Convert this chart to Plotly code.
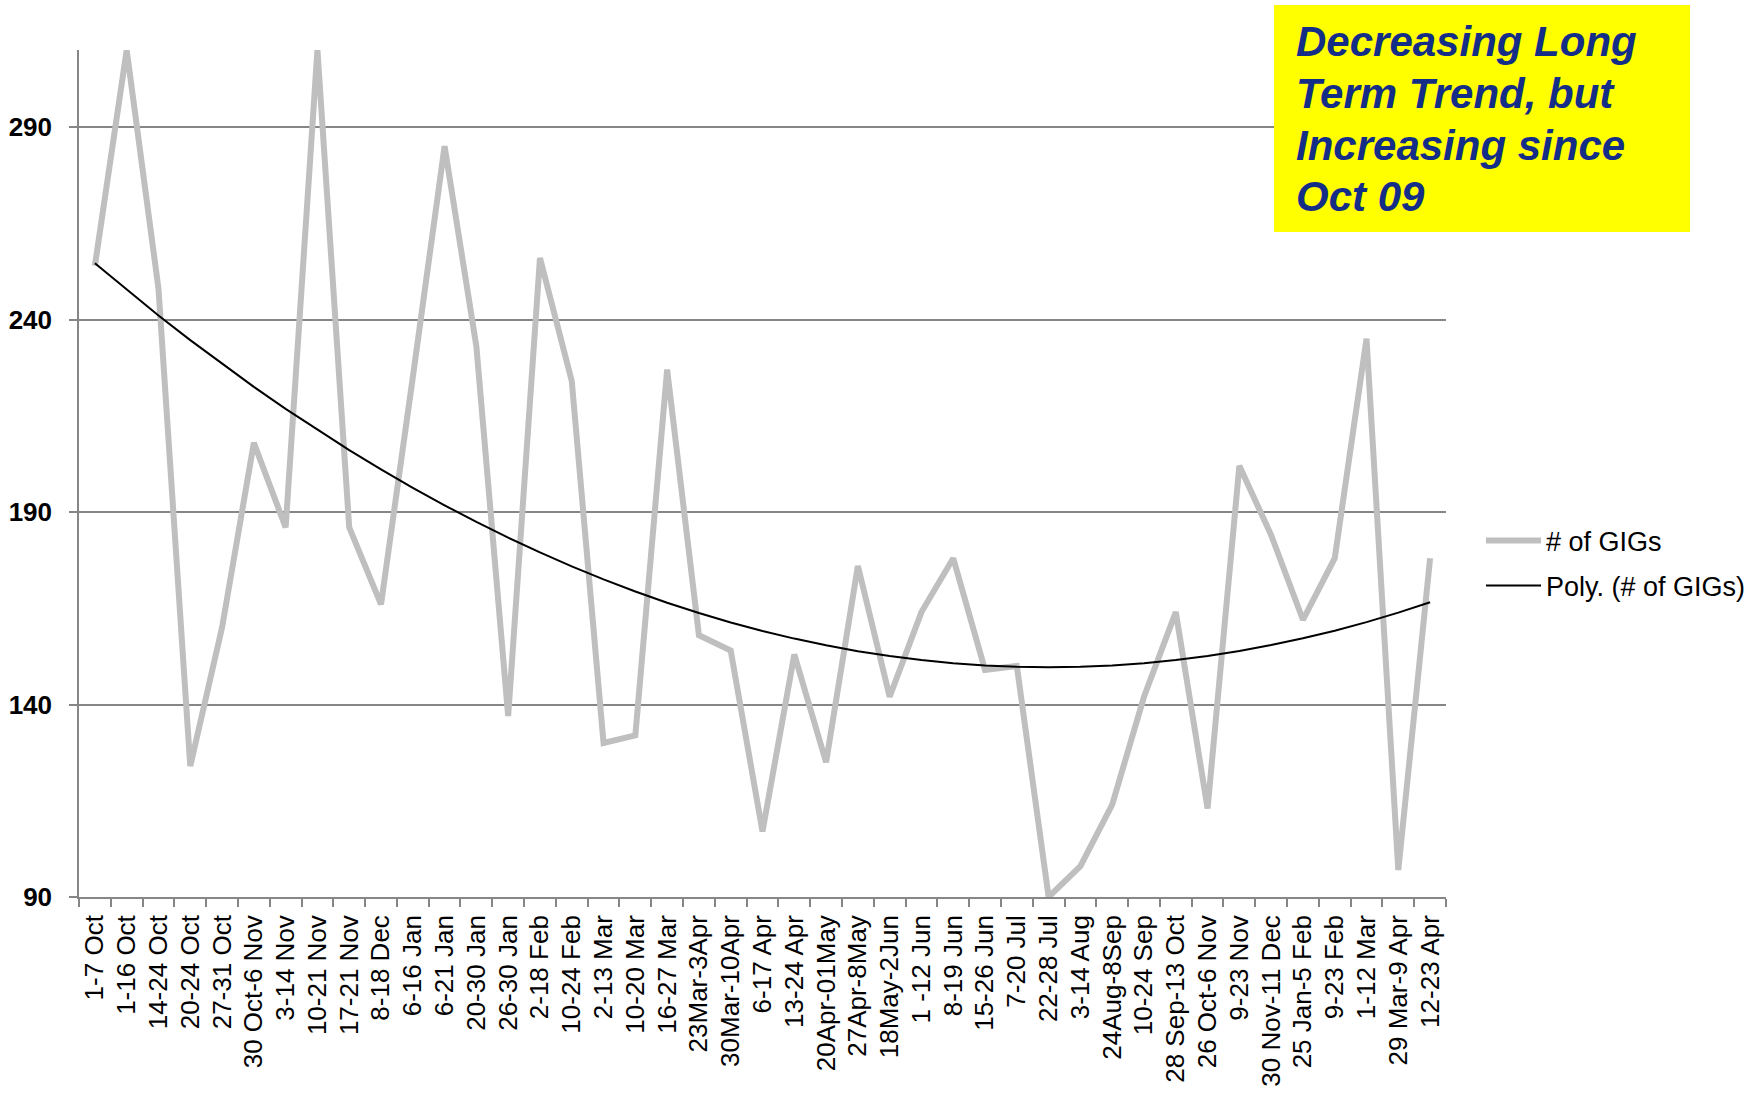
import numpy as np
import plotly.graph_objects as go

# Weekly reporting periods
periods = [
    "1-7 Oct", "1-16 Oct", "14-24 Oct", "20-24 Oct", "27-31 Oct", "30 Oct-6 Nov",
    "3-14 Nov", "10-21 Nov", "17-21 Nov", "8-18 Dec", "6-16 Jan", "6-21 Jan",
    "20-30 Jan", "26-30 Jan", "2-18 Feb", "10-24 Feb", "2-13 Mar", "10-20 Mar",
    "16-27 Mar", "23Mar-3Apr", "30Mar-10Apr", "6-17 Apr", "13-24 Apr",
    "20Apr-01May", "27Apr-8May", "18May-2Jun", "1 -12 Jun", "8-19 Jun",
    "15-26 Jun", "7-20 Jul", "22-28 Jul", "3-14 Aug", "24Aug-8Sep",
    "10-24 Sep", "28 Sep-13 Oct", "26 Oct-6 Nov", "9-23 Nov", "30 Nov-11 Dec",
    "25 Jan-5 Feb", "9-23 Feb", "1-12 Mar", "29 Mar-9 Apr", "12-23 Apr",
]

# Number of GIGs per period
gigs = [
    254, 310, 248, 124, 160, 208, 186, 310, 186, 166, 225, 285,
    233, 137, 256, 224, 130, 132, 227, 158, 154, 107, 153,
    125, 176, 142, 164, 178, 149, 150, 90, 98, 114,
    142, 164, 113, 202, 184, 162, 178, 235, 97, 178,
]

# Y axis settings
y_min, y_max, y_step = 90, 310, 50

# Second-order polynomial trend over the series
idx = np.arange(1, len(gigs) + 1)
coef = np.polyfit(idx, gigs, 2)
trend = np.polyval(coef, idx)

W, H = 1758, 1093
L, R, T, B = 79, 312, 50, 196
plot_w, plot_h = W - L - R, H - T - B


def px_x(p):
    return (p - L) / plot_w


def px_y(p):
    return (H - B - p) / plot_h


GRID = "#868686"
FONT = "Liberation Sans, Arial, sans-serif"

fig = go.Figure()
fig.add_trace(go.Scatter(
    x=periods, y=gigs, mode="lines", name="# of GIGs",
    line=dict(color="#BFBFBF", width=6), legend="legend",
))
fig.add_trace(go.Scatter(
    x=periods, y=trend, mode="lines", name="Poly. (# of GIGs)",
    line=dict(color="#000000", width=2), legend="legend2",
))

legend_common = dict(
    xanchor="left", yanchor="middle", bgcolor="rgba(0,0,0,0)",
    font=dict(family=FONT, size=27, color="#000000"), itemwidth=55,
)

fig.update_layout(
    width=W, height=H,
    margin=dict(l=L, r=R, t=T, b=B, autoexpand=False),
    paper_bgcolor="white", plot_bgcolor="white",
    showlegend=True,
    legend=dict(x=px_x(1481), y=px_y(541), **legend_common),
    legend2=dict(x=px_x(1481), y=px_y(586), **legend_common),
    xaxis=dict(
        type="category", range=[-0.5, len(periods) - 0.5],
        tickson="boundaries", ticks="outside", ticklen=8, tickwidth=1.5,
        tickcolor=GRID, showline=True, linecolor=GRID, linewidth=1.5,
        showgrid=False, tickangle=-90, ticklabelstandoff=6,
        tickfont=dict(family=FONT, size=26, color="#000000"),
    ),
    yaxis=dict(
        range=[y_min, y_max], tick0=y_min, dtick=y_step,
        ticks="outside", ticklen=8, tickwidth=1.5, tickcolor=GRID,
        showline=True, linecolor=GRID, linewidth=1.5,
        showgrid=True, gridcolor=GRID, gridwidth=1.5, zeroline=False,
        ticklabelstandoff=12,
        tickfont=dict(family=FONT, size=26, color="#000000", weight="bold"),
    ),
)

# Yellow call-out box
fig.add_shape(
    type="rect", xref="paper", yref="paper",
    x0=px_x(1274), x1=px_x(1690), y0=px_y(232), y1=px_y(5),
    fillcolor="#FFFF00", line=dict(width=0), layer="above",
)

callout = ["Decreasing Long", "Term Trend, but", "Increasing since", "Oct 09"]
for i, line in enumerate(callout):
    fig.add_annotation(
        xref="paper", yref="paper", x=px_x(1294), y=px_y(42 + 51.5 * i),
        xanchor="left", yanchor="middle", showarrow=False, text=line,
        font=dict(family=FONT, size=42, color="#142D87", weight="bold", style="italic"),
    )

fig.write_html("out.html")
